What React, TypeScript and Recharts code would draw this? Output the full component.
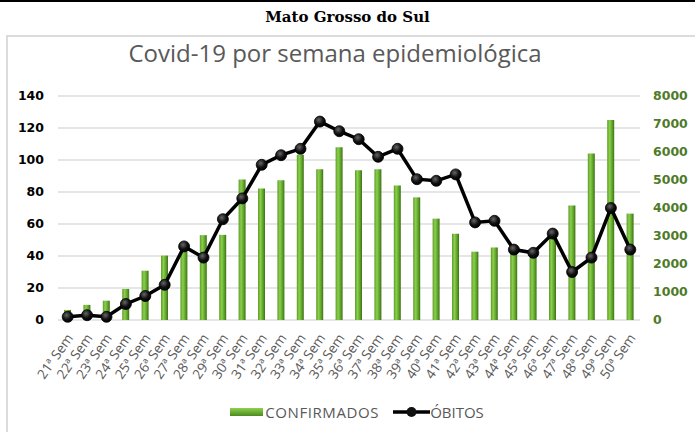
import React from "react";
import {
  ComposedChart,
  Bar,
  Line,
  CartesianGrid,
  XAxis,
  YAxis,
  Legend
} from "recharts";

const semanas = [
  "21ª Sem", "22ª Sem", "23ª Sem", "24ª Sem", "25ª Sem", "26ª Sem",
  "27ª Sem", "28ª Sem", "29ª Sem", "30ª Sem", "31ª Sem", "32ª Sem",
  "33ª Sem", "34ª Sem", "35ª Sem", "36ª Sem", "37ª Sem", "38ª Sem",
  "39ª Sem", "40ª Sem", "41ª Sem", "42ª Sem", "43ª Sem", "44ª Sem",
  "45ª Sem", "46ª Sem", "47ª Sem", "48ª Sem", "49ª Sem", "50ª Sem"
];

const confirmados = [
  360, 540, 690, 1110, 1760, 2300, 2700, 3030, 3040, 5020,
  4700, 4990, 5900, 5380, 6170, 5350, 5380, 4800, 4380, 3620,
  3080, 2440, 2590, 2450, 2350, 2950, 4090, 5950, 7140, 3800
];

const obitos = [
  2, 3, 2, 10, 15, 22, 46, 39, 63, 76,
  97, 103, 107, 124, 118, 113, 102, 107, 88, 87,
  91, 61, 62, 44, 42, 54, 30, 39, 70, 44
];

const leftTicks = [0, 20, 40, 60, 80, 100, 120, 140];
const rightTicks = [0, 1000, 2000, 3000, 4000, 5000, 6000, 7000, 8000];

const data = semanas.map((semana, i) => ({
  semana,
  confirmados: confirmados[i],
  obitos: obitos[i]
}));

const GREY = "#595959";
const GREEN_TEXT = "#4f7b28";

function WeekTick({ x, y, payload }: any) {
  return (
    <g transform={`translate(${x + 6},${y + 10})`}>
      <text
        textAnchor="end"
        transform="rotate(-55)"
        fill={GREY}
        fontSize={13.5}
        fontFamily="'Open Sans', sans-serif"
      >
        {payload.value}
      </text>
    </g>
  );
}

function Dot({ cx, cy }: any) {
  if (cx == null || cy == null) return null;
  return <circle cx={cx} cy={cy} r={5.5} fill="url(#dotFill)" stroke="#000" strokeWidth={0.8} />;
}

function LegendBox() {
  const txt = {
    color: GREY,
    fontSize: 15,
    fontFamily: "'Open Sans', sans-serif"
  };
  return (
    <div style={{ display: "flex", justifyContent: "center", alignItems: "center", marginLeft: 19 }}>
      <svg width={33} height={10}>
        <defs>
          <linearGradient id="legendBar" x1="0" y1="0" x2="0" y2="1">
            <stop offset="0%" stopColor="#8fd04f" />
            <stop offset="100%" stopColor="#4b8a1e" />
          </linearGradient>
        </defs>
        <rect x={0} y={1} width={33} height={8} fill="url(#legendBar)" />
      </svg>
      <span style={{ ...txt, letterSpacing: 0.6, marginLeft: 2, marginRight: 14 }}>CONFIRMADOS</span>
      <svg width={37} height={12}>
        <line x1={0} y1={6} x2={37} y2={6} stroke="#000" strokeWidth={3.5} />
        <circle cx={18.5} cy={6} r={5} fill="#111" />
      </svg>
      <span style={txt}>ÓBITOS</span>
    </div>
  );
}

export default function App() {
  return (
    <div
      style={{
        position: "absolute",
        left: 0,
        top: 0,
        width: 695,
        height: 432,
        background: "#fff",
        overflow: "hidden"
      }}
    >
      <div style={{ position: "absolute", left: 0, top: 0, width: 695, height: 2, background: "#000" }} />
      <div
        style={{
          position: "absolute",
          left: 0,
          top: 8,
          width: 695,
          textAlign: "center",
          fontFamily: "'DejaVu Serif', serif",
          fontWeight: 700,
          fontSize: 15,
          color: "#000"
        }}
      >
        Mato Grosso do Sul
      </div>
      <div
        style={{
          position: "absolute",
          left: 6,
          top: 35,
          width: 700,
          height: 420,
          borderTop: "2px solid #dcdcdc",
          borderLeft: "2px solid #dcdcdc"
        }}
      />
      <div
        style={{
          position: "absolute",
          left: 0,
          top: 36,
          width: 670,
          textAlign: "center",
          fontFamily: "'Open Sans', sans-serif",
          fontSize: 24,
          color: GREY
        }}
      >
        Covid-19 por semana epidemiológica
      </div>
      <div style={{ position: "absolute", left: 0, top: 0 }}>
        <ComposedChart
          width={695}
          height={432}
          data={data}
          margin={{ top: 96, right: 0, bottom: 8, left: 0 }}
        >
          <defs>
            <linearGradient id="barFill" x1="0" y1="0" x2="1" y2="0">
              <stop offset="0%" stopColor="#5d9c28" />
              <stop offset="35%" stopColor="#8bcf4c" />
              <stop offset="70%" stopColor="#5fa52b" />
              <stop offset="100%" stopColor="#3c7114" />
            </linearGradient>
            <radialGradient id="dotFill" cx="0.4" cy="0.35" r="0.65">
              <stop offset="0%" stopColor="#666" />
              <stop offset="60%" stopColor="#111" />
              <stop offset="100%" stopColor="#000" />
            </radialGradient>
          </defs>
          <CartesianGrid
            yAxisId="left"
            vertical={false}
            stroke="#dedede"
            strokeWidth={1.5}
          />
          <XAxis
            dataKey="semana"
            interval={0}
            axisLine={false}
            tickLine={false}
            height={82}
            tick={<WeekTick />}
          />
          <YAxis
            yAxisId="left"
            orientation="left"
            domain={[0, 140]}
            ticks={leftTicks}
            width={58}
            axisLine={false}
            tickLine={false}
            tickMargin={8}
            tick={{ fill: "#000", fontSize: 12.5, fontWeight: 700, fontFamily: "'DejaVu Sans', sans-serif" }}
          />
          <YAxis
            yAxisId="right"
            orientation="right"
            domain={[0, 8000]}
            ticks={rightTicks}
            width={55}
            axisLine={false}
            tickLine={false}
            tickMargin={7}
            tick={{ fill: GREEN_TEXT, fontSize: 12.5, fontWeight: 700, fontFamily: "'DejaVu Sans', sans-serif", textAnchor: "start" }}
          />
          <Legend verticalAlign="bottom" height={22} content={<LegendBox />} />
          <Bar
            yAxisId="right"
            dataKey="confirmados"
            name="CONFIRMADOS"
            fill="url(#barFill)"
            barSize={7}
            isAnimationActive={false}
          />
          <Line
            yAxisId="left"
            dataKey="obitos"
            name="ÓBITOS"
            type="linear"
            stroke="#000"
            strokeWidth={3.5}
            dot={<Dot />}
            activeDot={false}
            isAnimationActive={false}
          />
        </ComposedChart>
      </div>
    </div>
  );
}
